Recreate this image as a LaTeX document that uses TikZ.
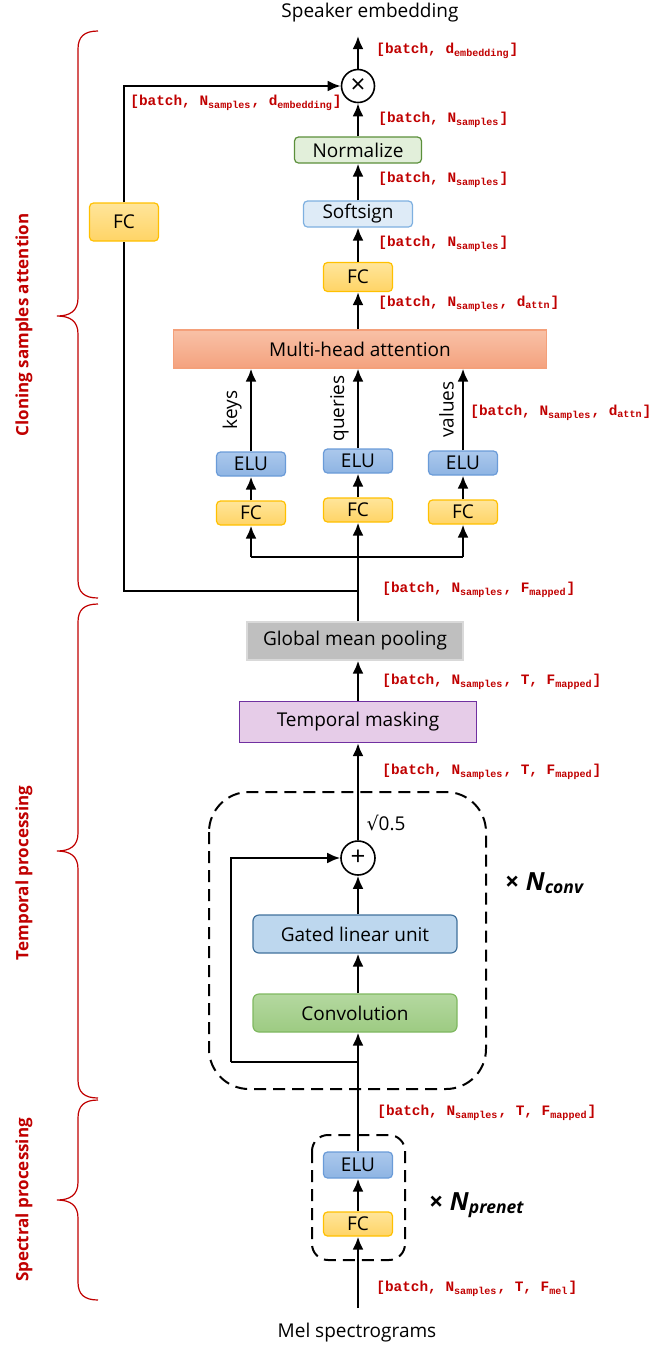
\documentclass[tikz,border=0pt]{standalone}
\usepackage{fontspec}
\setmainfont{Open Sans}
\newfontfamily\monofont{Liberation Mono}
\newfontfamily\symfont{DejaVu Sans}
\usetikzlibrary{arrows.meta}
\usetikzlibrary{positioning}
\definecolor{dimred}{HTML}{C00000}
\definecolor{fctop}{HTML}{FFE59A}
\definecolor{fcbot}{HTML}{FFD466}
\definecolor{fcline}{HTML}{FFC000}
\definecolor{elutop}{HTML}{ABC8EC}
\definecolor{elubot}{HTML}{8EB4E3}
\definecolor{eluline}{HTML}{6A9BD8}
\definecolor{normfill}{HTML}{E2EFDA}
\definecolor{normline}{HTML}{5B8F3A}
\definecolor{signfill}{HTML}{DEEBF7}
\definecolor{signline}{HTML}{7EB0E0}
\definecolor{mhatop}{HTML}{F8C1A6}
\definecolor{mhabot}{HTML}{F4A27F}
\definecolor{mhaline}{HTML}{F4A07A}
\definecolor{poolfill}{HTML}{BFBFBF}
\definecolor{poolline}{HTML}{D9D9D9}
\definecolor{maskfill}{HTML}{E6CCE8}
\definecolor{maskline}{HTML}{7030A0}
\definecolor{glufill}{HTML}{BDD7EE}
\definecolor{gluline}{HTML}{41719C}
\definecolor{convtop}{HTML}{B4D8A0}
\definecolor{convbot}{HTML}{9DCB82}
\definecolor{convline}{HTML}{7FB860}
\newcommand{\idx}[1]{\textsubscript{#1}}
\tikzset{>={Latex[length = 6.5pt, width = 5.5pt]}}
\tikzset{wire/.style = {line width = 1.2pt}}
\tikzset{flow/.style = {wire, ->}}
\tikzset{block/.style = {draw, line width = 0.6pt, inner sep = 0, font = \fontsize{9.5}{11}\selectfont}}
\tikzset{fc/.style = {block, rounded corners = 2pt, draw = fcline, top color = fctop, bottom color = fcbot, minimum width = 34.5pt, minimum height = 12pt}}
\tikzset{elu/.style = {block, rounded corners = 2pt, draw = eluline, top color = elutop, bottom color = elubot, minimum width = 34.5pt, minimum height = 12pt}}
\tikzset{op/.style = {draw, circle, line width = 0.8pt, inner sep = 0, minimum size = 16.5pt, font = \fontsize{13}{13}\selectfont}}
\tikzset{tensor/.style = {anchor = west, inner sep = 0, text = dimred, font = \monofont\bfseries\fontsize{7.2}{8}\selectfont}}
\tikzset{stage/.style = {rotate = 90, inner sep = 0, text = dimred, font = \bfseries\fontsize{8.5}{10}\selectfont}}
\tikzset{groupbrace/.style = {draw = dimred, line width = 0.6pt}}
\tikzset{repeatbox/.style = {draw, line width = 1pt, dash pattern = on 6pt off 3.5pt}}
\tikzset{caption/.style = {inner sep = 0, font = \fontsize{9.5}{11}\selectfont}}
\tikzset{repeats/.style = {inner sep = 0, font = \bfseries\fontsize{12.5}{14}\selectfont}}

\begin{document}
\begin{tikzpicture}[x = 0.5pt, y = -0.5pt]
  \useasboundingbox (0, 0) rectangle (650, 1346);

  \node [caption] (speaker) at (370, 13) {Speaker embedding};
  \coordinate (out) at (358, 36);
  \node [op] (mul) at (358, 86) {×};
  \node [block, rounded corners = 2pt, draw = normline, fill = normfill, minimum width = 63.5pt, minimum height = 13pt] (norm) at (358, 150) {Normalize};
  \node [block, rounded corners = 2pt, draw = signline, fill = signfill, minimum width = 54.5pt, minimum height = 13pt] (sign) at (358, 214) {Softsign};
  \node [fc, minimum height = 14.5pt] (fcatt) at (358, 277) {FC};
  \node [block, draw = mhaline, top color = mhatop, bottom color = mhabot, minimum width = 186.5pt, minimum height = 19pt] (mha) at (360, 349) {Multi-head attention};
  \node [fc, minimum height = 19pt] (fcskip) at (124, 222) {FC};

  \node [elu] (eluk) at (251, 464) {ELU};
  \node [elu] (eluq) at (358, 461) {ELU};
  \node [elu] (eluv) at (463, 463) {ELU};
  \node [fc] (fck) at (251, 513) {FC};
  \node [fc] (fcq) at (358, 510) {FC};
  \node [fc] (fcv) at (463, 512) {FC};
  \coordinate (split) at (358, 557);
  \coordinate (tap) at (358, 591);

  \node [block, draw = poolline, fill = poolfill, minimum width = 108pt, minimum height = 19pt] (pool) at (355, 641) {Global mean pooling};
  \node [block, draw = maskline, fill = maskfill, minimum width = 118.5pt, minimum height = 20.5pt] (mask) at (358, 722) {Temporal masking};

  \draw [repeatbox, rounded corners = 20pt] (209, 792) rectangle (486, 1089);
  \node [op, minimum size = 17pt] (add) at (358, 858) {+};
  \node [caption] (scale) at (386, 823) {{\symfont √}0.5};
  \node [block, rounded corners = 3pt, draw = gluline, fill = glufill, minimum width = 102pt, minimum height = 19pt] (glu) at (355, 934) {Gated linear unit};
  \node [block, rounded corners = 3pt, draw = convline, top color = convtop, bottom color = convbot, minimum width = 102pt, minimum height = 19pt] (conv) at (355, 1013) {Convolution};
  \coordinate (res) at (358, 1062);
  \coordinate (resleft) at (231, 1062);
  \node [repeats] (nconv) at (545, 883) {× \textit{N}\idx{\textit{conv}}};

  \draw [repeatbox, rounded corners = 8pt] (312, 1135) rectangle (405, 1260);
  \node [elu, minimum height = 13pt] (elupre) at (358, 1165) {ELU};
  \node [fc] (fcpre) at (358, 1224) {FC};
  \node [repeats] (nprenet) at (477, 1205) {× \textit{N}\idx{\textit{prenet}}};
  \coordinate (in) at (358, 1308);
  \node [caption] (mel) at (357, 1333) {Mel spectrograms};

  \draw [flow] (in) -- (fcpre.south);
  \draw [flow] (fcpre.north) -- (elupre.south);
  \draw [flow] (elupre.north) -- (conv.south -| res);
  \draw [wire] (res) -- (resleft);
  \draw [flow] (resleft) |- (add.west);
  \draw [flow] (conv.north -| res) -- (glu.south -| res);
  \draw [flow] (glu.north -| res) -- (add.south);
  \draw [flow] (add.north) -- (mask.south);
  \draw [flow] (mask.north) -- (pool.south -| mask.north);
  \draw [flow] (pool.north -| fcq.south) -- (fcq.south);
  \draw [wire] (fck.south |- split) -- (fcv.south |- split);
  \draw [flow] (fck.south |- split) -- (fck.south);
  \draw [flow] (fcv.south |- split) -- (fcv.south);
  \draw [wire] (tap) -| (fcskip.south);
  \draw [flow] (fcskip.north) |- (mul.west);
  \draw [flow] (fck.north) -- (eluk.south);
  \draw [flow] (fcq.north) -- (eluq.south);
  \draw [flow] (fcv.north) -- (eluv.south);
  \draw [flow] (eluk.north) -- (eluk.north |- mha.south) node [caption, midway, rotate = 90, anchor = south, inner sep = 4pt] (keys) {keys};
  \draw [flow] (eluq.north) -- (eluq.north |- mha.south) node [caption, midway, rotate = 90, anchor = south, inner sep = 4pt] (queries) {queries};
  \draw [flow] (eluv.north) -- (eluv.north |- mha.south) node [caption, midway, rotate = 90, anchor = south, inner sep = 4pt] (values) {values};
  \draw [flow] (mha.north -| fcatt) -- (fcatt.south);
  \draw [flow] (fcatt.north) -- (sign.south);
  \draw [flow] (sign.north) -- (norm.south);
  \draw [flow] (norm.north) -- (mul.south);
  \draw [flow] (mul.north) -- (out);

  \node [tensor] (dout) at (376, 51) {[batch, d\idx{embedding}]};
  \node [tensor] (dskip) at (130, 103) {[batch, N\idx{samples}, d\idx{embedding}]};
  \node [tensor] (dnorm) at (378, 120) {[batch, N\idx{samples}]};
  \node [tensor] (dsign) at (378, 180) {[batch, N\idx{samples}]};
  \node [tensor] (dfc) at (378, 244) {[batch, N\idx{samples}]};
  \node [tensor] (dmha) at (378, 304) {[batch, N\idx{samples}, d\idx{attn}]};
  \node [tensor] (dhead) at (470, 413) {[batch, N\idx{samples}, d\idx{attn}]};
  \node [tensor] (dpool) at (382, 590) {[batch, N\idx{samples}, F\idx{mapped}]};
  \node [tensor] (dmask) at (382, 682) {[batch, N\idx{samples}, T, F\idx{mapped}]};
  \node [tensor] (dconv) at (382, 772) {[batch, N\idx{samples}, T, F\idx{mapped}]};
  \node [tensor] (dpre) at (377, 1113) {[batch, N\idx{samples}, T, F\idx{mapped}]};
  \node [tensor] (dmel) at (376, 1289) {[batch, N\idx{samples}, T, F\idx{mel}]};

  \foreach \ya/\ym/\yb in {31/316/598, 604/851/1098, 1100/1200/1300}
    \draw [groupbrace] (98, \ya) .. controls (84, \ya) and (78, \ya + 6) .. (78, \ya + 18)
      -- (78, \ym - 18) .. controls (78, \ym - 5) and (70, \ym) .. (57, \ym)
      .. controls (70, \ym) and (78, \ym + 5) .. (78, \ym + 18)
      -- (78, \yb - 18) .. controls (78, \yb - 6) and (84, \yb) .. (98, \yb);
  \node [stage] (cloning) at (24, 325) {Cloning samples attention};
  \node [stage] (temporal) at (24, 873) {Temporal processing};
  \node [stage] (spectral) at (24, 1200) {Spectral processing};
\end{tikzpicture}
\end{document}
